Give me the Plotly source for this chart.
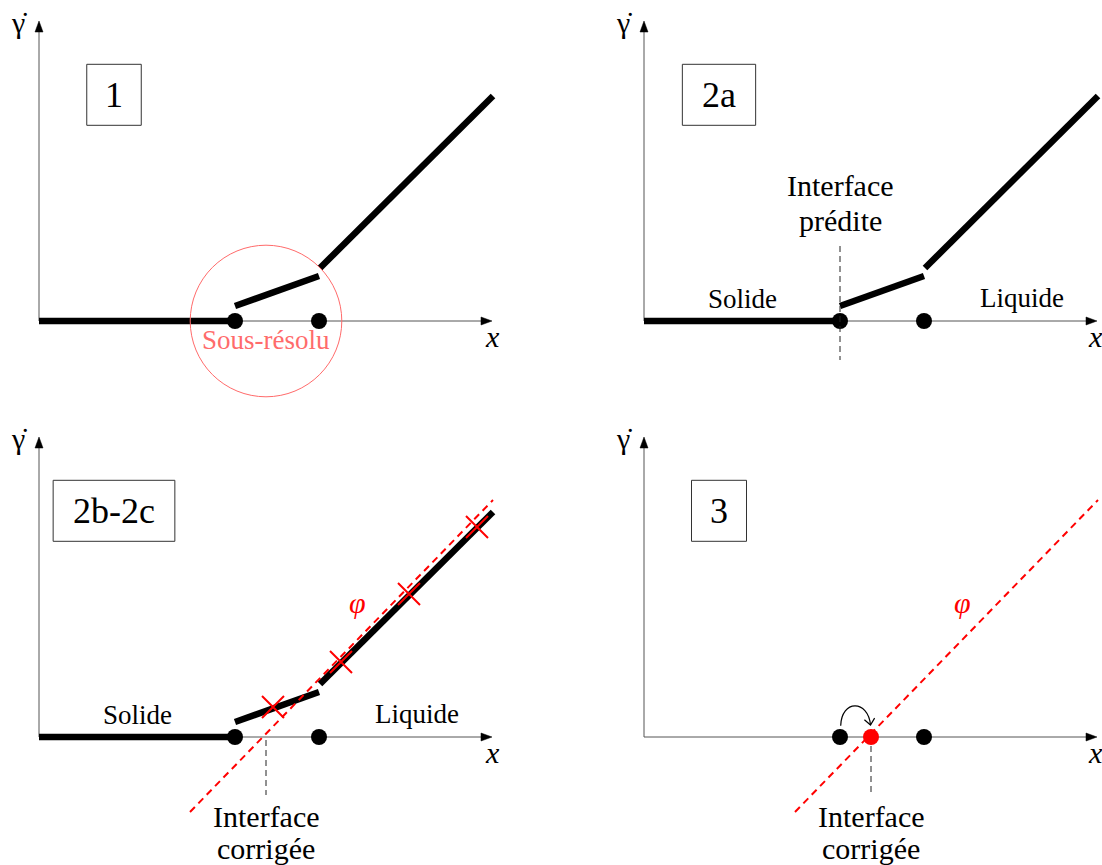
import plotly.graph_objects as go

# ---------------- data (schematic units) ----------------
axis_x_end = 4.53          # end of the x axis (arrow tip)
axis_y_end = 3.00          # end of the gamma-dot axis (arrow tip)
cells_x = [1.96, 2.80]     # grid nodes on the x axis
cells_y = [0.0, 0.0]
solid_x = [0.0, 1.96]      # solid branch (zero shear rate)
solid_y = [0.0, 0.0]
interface_x = [1.96, 2.80] # under-resolved interface cell
interface_y = [0.15, 0.45]
liquid_x = [2.81, 4.54]    # liquid branch
liquid_y = [0.53, 2.25]
phi_x = [1.51, 4.54]       # fitted function phi
phi_y = [-0.75, 2.37]
sample_x = [2.34, 3.02, 3.70, 4.38]   # sampled points used for the fit
sample_y = [0.30, 0.75, 1.43, 2.10]
x_predicted = 1.96         # predicted interface
x_corrected = 2.27         # corrected interface
panel_labels = ["1", "2a", "2b-2c", "3"]

# ---------------- geometry / styles ----------------
W, H = 1102, 865
PX = 100.0  # pixels per schematic unit (same on both axes)
FONT = "'Liberation Serif', 'DejaVu Serif', 'Times New Roman', serif"
RED = "#ff0000"
LIGHTRED = "#ff6b6b"

panels = [
    dict(origin=(39, 321), win=(0, 551, 0, 420), bw=0.545),
    dict(origin=(644, 321), win=(551, 1102, 0, 420), bw=0.733),
    dict(origin=(39, 737), win=(0, 551, 420, 865), bw=1.217),
    dict(origin=(644, 737), win=(551, 1102, 420, 865), bw=0.55),
]

fig = go.Figure()
shapes = []
annotations = []


def txt(xa, ya, x, y, text, size, color="black"):
    annotations.append(dict(xref=xa, yref=ya, x=x, y=y, text=text, showarrow=False,
                            font=dict(family=FONT, size=size, color=color)))


for i, p in enumerate(panels):
    n = "" if i == 0 else str(i + 1)
    xa, ya = "x" + n, "y" + n
    ox, oy = p["origin"]
    wx0, wx1, wy0, wy1 = p["win"]
    fig.update_layout(**{
        "xaxis" + n: dict(domain=[wx0 / W, wx1 / W], range=[(wx0 - ox) / PX, (wx1 - ox) / PX],
                          visible=False, fixedrange=True, anchor=ya),
        "yaxis" + n: dict(domain=[1 - wy1 / H, 1 - wy0 / H], range=[(oy - wy1) / PX, (oy - wy0) / PX],
                          visible=False, fixedrange=True, anchor=xa),
    })

    # axes with latex-like arrow heads
    ah_len, ah_half = 0.11, 0.04
    shapes.append(dict(type="line", xref=xa, yref=ya, x0=0, y0=0, x1=axis_x_end - 0.05, y1=0,
                       line=dict(color="#555555", width=1), layer="below"))
    shapes.append(dict(type="line", xref=xa, yref=ya, x0=0, y0=0, x1=0, y1=axis_y_end - 0.05,
                       line=dict(color="#555555", width=1), layer="below"))
    shapes.append(dict(type="path", xref=xa, yref=ya,
                       path=f"M {axis_x_end - ah_len},{ah_half} L {axis_x_end},0 L {axis_x_end - ah_len},{-ah_half} Z",
                       fillcolor="black", line=dict(color="black", width=0.5)))
    shapes.append(dict(type="path", xref=xa, yref=ya,
                       path=f"M {-ah_half},{axis_y_end - ah_len} L 0,{axis_y_end} L {ah_half},{axis_y_end - ah_len} Z",
                       fillcolor="black", line=dict(color="black", width=0.5)))
    txt(xa, ya, -0.20, 2.99, "γ\u0307", 30)
    txt(xa, ya, 4.51 if i % 2 else axis_x_end, -0.15, "<i>x</i>", 30)

    # label box
    bw = p["bw"]
    shapes.append(dict(type="rect", xref=xa, yref=ya, x0=0.75 - bw / 2, x1=0.75 + bw / 2, y0=1.957, y1=2.567,
                       line=dict(color="#333333", width=1)))
    txt(xa, ya, 0.75, 2.26, panel_labels[i], 36)

    # vertical dashed marker for the interface
    if i == 1:
        shapes.append(dict(type="line", xref=xa, yref=ya, x0=x_predicted, x1=x_predicted, y0=0.75, y1=-0.39,
                           line=dict(color="#222222", width=1, dash="6px,4px")))
    if i in (2, 3):
        shapes.append(dict(type="line", xref=xa, yref=ya, x0=x_corrected, x1=x_corrected,
                           y0=-0.03 if i == 2 else -0.09, y1=-0.58,
                           line=dict(color="#222222", width=1, dash="6px,4px")))

    # black profile
    if i < 3:
        for xs, ys in ((solid_x, solid_y), (interface_x, interface_y), (liquid_x, liquid_y)):
            fig.add_trace(go.Scatter(x=xs, y=ys, mode="lines", xaxis=xa, yaxis=ya,
                                     line=dict(color="black", width=6.5), hoverinfo="skip"))

    # fitted function phi
    if i in (2, 3):
        fig.add_trace(go.Scatter(x=phi_x, y=phi_y, mode="lines", xaxis=xa, yaxis=ya,
                                 line=dict(color=RED, width=2, dash="7px,5px"), hoverinfo="skip"))
        txt(xa, ya, 3.18, 1.35, "<i>φ</i>", 30, RED)
        txt(xa, ya, x_corrected, -0.79, "Interface", 30)
        txt(xa, ya, x_corrected, -1.11, "corrigée", 30)

    if i == 2:
        fig.add_trace(go.Scatter(x=sample_x, y=sample_y, mode="markers", xaxis=xa, yaxis=ya, cliponaxis=False,
                                 marker=dict(symbol="x-thin", size=22, line=dict(color=RED, width=2)),
                                 hoverinfo="skip"))

    # grid nodes
    fig.add_trace(go.Scatter(x=cells_x, y=cells_y, mode="markers", xaxis=xa, yaxis=ya, cliponaxis=False,
                             marker=dict(color="black", size=16, line=dict(width=0)), hoverinfo="skip"))

    if i == 0:
        r = 0.758
        shapes.append(dict(type="circle", xref=xa, yref=ya, x0=x_corrected - r, x1=x_corrected + r, y0=-r, y1=r,
                           line=dict(color=LIGHTRED, width=1)))
        txt(xa, ya, x_corrected, -0.19, "Sous-résolu", 27, LIGHTRED)

    if i in (1, 2):
        txt(xa, ya, 0.98, 0.22, "Solide", 27)
        txt(xa, ya, 3.78, 0.23, "Liquide", 27)

    if i == 1:
        txt(xa, ya, x_predicted, 1.355, "Interface", 30)
        txt(xa, ya, x_predicted, 1.01, "prédite", 30)

    if i == 3:
        fig.add_trace(go.Scatter(x=[x_corrected], y=[0.0], mode="markers", xaxis=xa, yaxis=ya, cliponaxis=False,
                                 marker=dict(color=RED, size=16, line=dict(width=0)), hoverinfo="skip"))
        # curved arrow from the node to the corrected interface
        x0c, x1c = cells_x[0] + 0.007, x_corrected - 0.005
        shapes.append(dict(type="path", xref=xa, yref=ya,
                           path=f"M {x0c},0.113 C {x0c + 0.008},0.375 {x1c - 0.025},0.375 {x1c},0.12",
                           line=dict(color="black", width=1.2)))
        shapes.append(dict(type="path", xref=xa, yref=ya,
                           path=f"M {x1c - 0.061},0.172 L {x1c},0.12 L {x1c + 0.041},0.189",
                           line=dict(color="black", width=1.2)))

fig.update_layout(
    width=W, height=H, autosize=False,
    margin=dict(l=0, r=0, t=0, b=0, pad=0),
    paper_bgcolor="white", plot_bgcolor="rgba(0,0,0,0)",
    showlegend=False,
    shapes=shapes, annotations=annotations,
)

fig.write_html("out.html", config=dict(displayModeBar=False, staticPlot=True),
               post_script="document.body.style.margin='0';document.body.style.overflow='hidden';")
